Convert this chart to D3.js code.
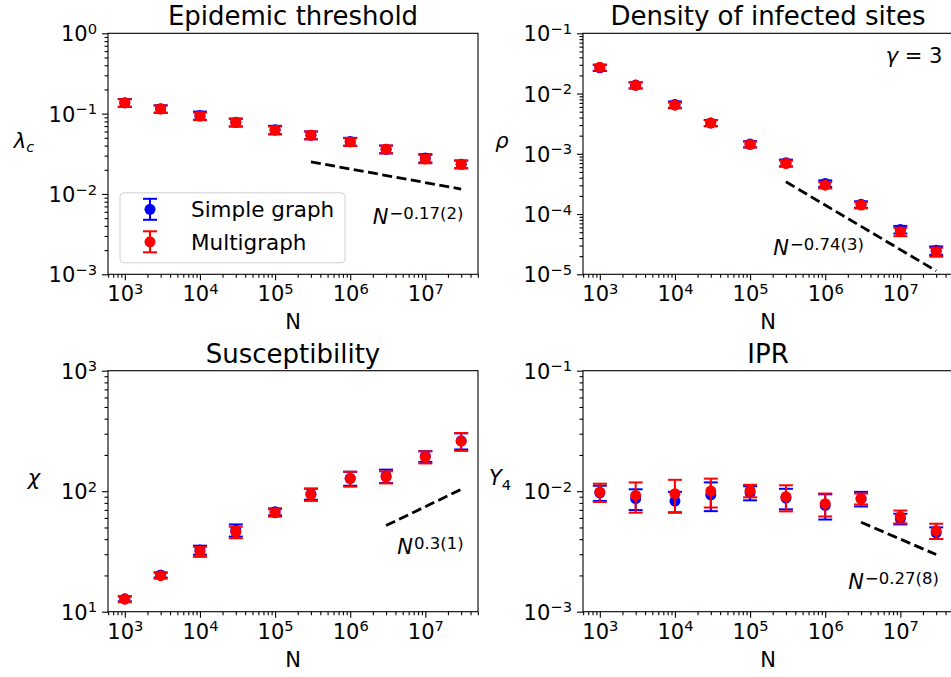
<!DOCTYPE html>
<html>
<head>
<meta charset="utf-8">
<script src="https://cdn.jsdelivr.net/npm/d3@7"></script>
<style>
  body { margin: 0; background: #fff; }
  text { font-family: "DejaVu Sans", sans-serif; fill: #000; }
  .axis line { stroke: #000; stroke-width: 1.1; }
  .axis path { display: none; }
</style>
</head>
<body>
<svg id="fig" width="951" height="677"></svg>
<script>
// system sizes
var sizes = [1e3, 3e3, 1e4, 3e4, 1e5, 3e5, 1e6, 3e6, 1e7, 3e7];

// epidemic threshold
var lambdaSimple    = [0.137, 0.115, 0.095, 0.078, 0.063, 0.054, 0.045, 0.036, 0.028, 0.0235];
var lambdaSimpleErr = [0.015, 0.012, 0.011, 0.009, 0.0075, 0.006, 0.005, 0.004, 0.0033, 0.0026];
var lambdaMulti     = [0.136, 0.114, 0.093, 0.0776, 0.0622, 0.0539, 0.0445, 0.0361, 0.0273, 0.0234];
var lambdaMultiErr  = [0.015, 0.012, 0.010, 0.008, 0.0070, 0.006, 0.005, 0.004, 0.0032, 0.0026];
var lambdaFitN = [3e5, 3e7];
var lambdaFit  = [0.0251, 0.0115];

// density of infected sites
var rhoSimple    = [0.0268, 0.0138, 0.0066, 0.00326, 0.00145, 0.00071, 0.000322, 0.000145, 5.55e-5, 2.5e-5];
var rhoSimpleErr = [0.0031, 0.0016, 0.0008, 0.00038, 0.00017, 0.00009, 0.00004, 0.000018, 0.000008, 0.000004];
var rhoMulti     = [0.0272, 0.0137, 0.0064, 0.00323, 0.00143, 0.00069, 0.000302, 0.000141, 5.1e-5, 2.36e-5];
var rhoMultiErr  = [0.0031, 0.0016, 0.0007, 0.00036, 0.00016, 0.00008, 0.000036, 0.000017, 0.000008, 0.000004];
var rhoFitN = [3e5, 3e7];
var rhoFit  = [3.43e-4, 1.14e-5];

// susceptibility
var chiSimple    = [12.8, 20.2, 32.5, 47.5, 67.5, 95, 128, 134, 195, 262];
var chiSimpleErr = [0.6, 1.0, 2.8, 5.5, 4.5, 10, 17, 17, 20, 40];
var chiMulti     = [12.7, 19.9, 31.5, 45.7, 66.2, 94, 127, 131, 192, 260];
var chiMultiErr  = [0.7, 1.1, 3.0, 5.0, 4.7, 11, 18, 15, 22, 44];
var chiFitN = [3e6, 3e7];
var chiFit  = [51.9, 103.5];

// inverse participation ratio
var iprSimple    = [0.0097, 0.00867, 0.00828, 0.00933, 0.0097, 0.00877, 0.00762, 0.00867, 0.0059, 0.00451];
var iprSimpleErr = [0.0014, 0.0017, 0.0016, 0.0025, 0.0013, 0.0017, 0.0018, 0.0012, 0.0006, 0.0005];
var iprMulti     = [0.00984, 0.00923, 0.00953, 0.01002, 0.0101, 0.0090, 0.00787, 0.00867, 0.00616, 0.00469];
var iprMultiErr  = [0.0017, 0.0026, 0.0029, 0.0027, 0.0012, 0.0022, 0.0017, 0.0009, 0.00075, 0.00068];
var iprFitN = [3e6, 3e7];
var iprFit  = [0.00553, 0.00298];

var seriesNames = ["Simple graph", "Multigraph"];
var seriesColors = ["#0000ff", "#ff0000"];

var panels = [
    {title: "Epidemic threshold", sym: "λ", sub: "c", subItalic: true, labelDx: -84,
     left: 108, top: 33.3, yDomain: [1e-3, 1],
     simple: lambdaSimple, simpleErr: lambdaSimpleErr, multi: lambdaMulti, multiErr: lambdaMultiErr,
     fitN: lambdaFitN, fit: lambdaFit, fitText: "−0.17(2)", fitAt: [2.0e6, 0.0042], legend: true},
    {title: "Density of infected sites", sym: "ρ", labelDx: -81,
     left: 583, top: 33.3, yDomain: [1e-5, 1e-1],
     simple: rhoSimple, simpleErr: rhoSimpleErr, multi: rhoMulti, multiErr: rhoMultiErr,
     fitN: rhoFitN, fit: rhoFit, fitText: "−0.74(3)", fitAt: [2.03e5, 2.07e-5], gamma: true},
    {title: "Susceptibility", sym: "χ", labelDx: -74,
     left: 108, top: 370.7, yDomain: [10, 1e3],
     simple: chiSimple, simpleErr: chiSimpleErr, multi: chiMulti, multiErr: chiMultiErr,
     fitN: chiFitN, fit: chiFit, fitText: "0.3(1)", fitAt: [4.24e6, 30.3]},
    {title: "IPR", sym: "Y", sub: "4", labelDx: -83,
     left: 583, top: 370.7, yDomain: [1e-3, 1e-1],
     simple: iprSimple, simpleErr: iprSimpleErr, multi: iprMulti, multiErr: iprMultiErr,
     fitN: iprFitN, fit: iprFit, fitText: "−0.27(8)", fitAt: [2.03e6, 0.00155]}
];

var pw = 370, ph = 241;
var capW = 7, radius = 5.5;

// matplotlib style 5% margin on the log x axis
var lo = Math.log10(d3.min(sizes)), hi = Math.log10(d3.max(sizes)), pad = 0.05 * (hi - lo);
var xDomain = [Math.pow(10, lo - pad), Math.pow(10, hi + pad)];

var svg = d3.select("#fig");

function isDecade(v) {
    var e = Math.log10(v);
    return Math.abs(e - Math.round(e)) < 1e-9;
}

function powLabel(sel) {
    sel.each(function(d) {
        var e = Math.round(Math.log10(d));
        var t = d3.select(this).text("");
        t.append("tspan").text("10");
        t.append("tspan").attr("dy", "-0.5em").attr("font-size", "0.7em")
            .text(e < 0 ? "−" + (-e) : e);
    });
}

panels.forEach(function(p) {
    var g = svg.append("g").attr("transform", "translate(" + p.left + "," + p.top + ")");

    var x = d3.scaleLog().domain(xDomain).range([0, pw]);
    var y = d3.scaleLog().domain(p.yDomain).range([ph, 0]);

    var xMajor = x.ticks().filter(isDecade), xMinor = x.ticks().filter(function(d) { return !isDecade(d); });
    var yMajor = y.ticks().filter(isDecade), yMinor = y.ticks().filter(function(d) { return !isDecade(d); });

    // minor ticks
    g.append("g").attr("class", "axis").attr("transform", "translate(0," + ph + ")")
        .call(d3.axisBottom(x).tickValues(xMinor).tickSize(3.5).tickSizeOuter(0).tickFormat(""));
    g.append("g").attr("class", "axis")
        .call(d3.axisLeft(y).tickValues(yMinor).tickSize(3.5).tickSizeOuter(0).tickFormat(""));

    // major ticks
    var xa = g.append("g").attr("class", "axis").attr("transform", "translate(0," + ph + ")")
        .call(d3.axisBottom(x).tickValues(xMajor).tickSize(6).tickSizeOuter(0));
    xa.selectAll(".tick text").attr("y", 27).attr("dy", null)
        .attr("font-size", 21).attr("font-family", "DejaVu Sans").call(powLabel);

    var ya = g.append("g").attr("class", "axis")
        .call(d3.axisLeft(y).tickValues(yMajor).tickSize(6).tickSizeOuter(0));
    ya.selectAll(".tick text").attr("x", -11).attr("y", 7.5).attr("dy", null)
        .attr("font-size", 21).attr("font-family", "DejaVu Sans").call(powLabel);

    // frame
    g.append("rect").attr("width", pw).attr("height", ph)
        .attr("fill", "none").attr("stroke", "#000").attr("stroke-width", 1.1);

    // titles and labels
    g.append("text").attr("x", pw / 2).attr("y", -8).attr("text-anchor", "middle")
        .attr("font-size", 26).text(p.title);

    g.append("text").attr("x", pw / 2).attr("y", ph + 55).attr("text-anchor", "middle")
        .attr("font-size", 21).text("N");

    var yl = g.append("text").attr("x", p.labelDx).attr("y", ph / 2 - 6)
        .attr("text-anchor", "middle").attr("font-size", 21);
    yl.append("tspan").attr("font-style", "italic").text(p.sym);
    if (p.sub) {
        yl.append("tspan").attr("dy", "0.3em").attr("font-size", "0.7em")
            .attr("font-style", p.subItalic ? "italic" : "normal").text(p.sub);
    }

    // fit line
    var fitData = p.fitN.map(function(n, i) { return {n: n, v: p.fit[i]}; });
    g.append("path")
        .attr("d", d3.line().x(function(d) { return x(d.n); }).y(function(d) { return y(d.v); })(fitData))
        .attr("fill", "none").attr("stroke", "#000").attr("stroke-width", 2.8)
        .attr("stroke-dasharray", "10,4.5");

    var ft = g.append("text").attr("x", x(p.fitAt[0])).attr("y", y(p.fitAt[1])).attr("font-size", 21);
    ft.append("tspan").attr("font-style", "italic").text("N");
    ft.append("tspan").attr("dy", -5).attr("dx", 1).attr("font-size", 16.5).text(p.fitText);

    if (p.gamma) {
        var gt = g.append("text").attr("x", x(3.63e7)).attr("y", y(0.0321))
            .attr("text-anchor", "end").attr("font-size", 21);
        gt.append("tspan").attr("font-style", "italic").text("γ");
        gt.append("tspan").text(" = 3");
    }

    // error bars: simple graph first, multigraph on top
    var sets = [
        {vals: p.simple, errs: p.simpleErr, color: seriesColors[0]},
        {vals: p.multi, errs: p.multiErr, color: seriesColors[1]}
    ];
    sets.forEach(function(s) {
        var rows = sizes.map(function(n, i) { return {n: n, v: s.vals[i], e: s.errs[i]}; });
        var eg = g.append("g");
        var pts = eg.selectAll("g").data(rows).enter().append("g");
        pts.append("line")
            .attr("x1", function(d) { return x(d.n); }).attr("x2", function(d) { return x(d.n); })
            .attr("y1", function(d) { return y(d.v - d.e); }).attr("y2", function(d) { return y(d.v + d.e); })
            .attr("stroke", s.color).attr("stroke-width", 2);
        [-1, 1].forEach(function(sign) {
            pts.append("line")
                .attr("x1", function(d) { return x(d.n) - capW; }).attr("x2", function(d) { return x(d.n) + capW; })
                .attr("y1", function(d) { return y(d.v + sign * d.e); }).attr("y2", function(d) { return y(d.v + sign * d.e); })
                .attr("stroke", s.color).attr("stroke-width", 2);
        });
        pts.append("circle")
            .attr("cx", function(d) { return x(d.n); }).attr("cy", function(d) { return y(d.v); })
            .attr("r", radius).attr("fill", s.color);
    });

    if (p.legend) {
        var lg = g.append("g").attr("transform", "translate(12,159.5)");
        lg.append("rect").attr("width", 225).attr("height", 70).attr("rx", 4)
            .attr("fill", "#fff").attr("fill-opacity", 0.8)
            .attr("stroke", "#d0d0d0").attr("stroke-width", 1);
        var items = lg.selectAll(".legend").data(seriesNames).enter().append("g")
            .attr("class", "legend")
            .attr("transform", function(d, i) { return "translate(30," + (16.5 + i * 32.5) + ")"; });
        items.append("line").attr("y1", -10.5).attr("y2", 10.5)
            .attr("stroke", function(d, i) { return seriesColors[i]; }).attr("stroke-width", 2);
        [-10.5, 10.5].forEach(function(cy) {
            items.append("line").attr("x1", -capW).attr("x2", capW).attr("y1", cy).attr("y2", cy)
                .attr("stroke", function(d, i) { return seriesColors[i]; }).attr("stroke-width", 2);
        });
        items.append("circle").attr("r", radius).attr("fill", function(d, i) { return seriesColors[i]; });
        items.append("text").attr("x", 41).attr("y", 8).attr("font-size", 21.5).text(function(d) { return d; });
    }
});
</script>
</body>
</html>
